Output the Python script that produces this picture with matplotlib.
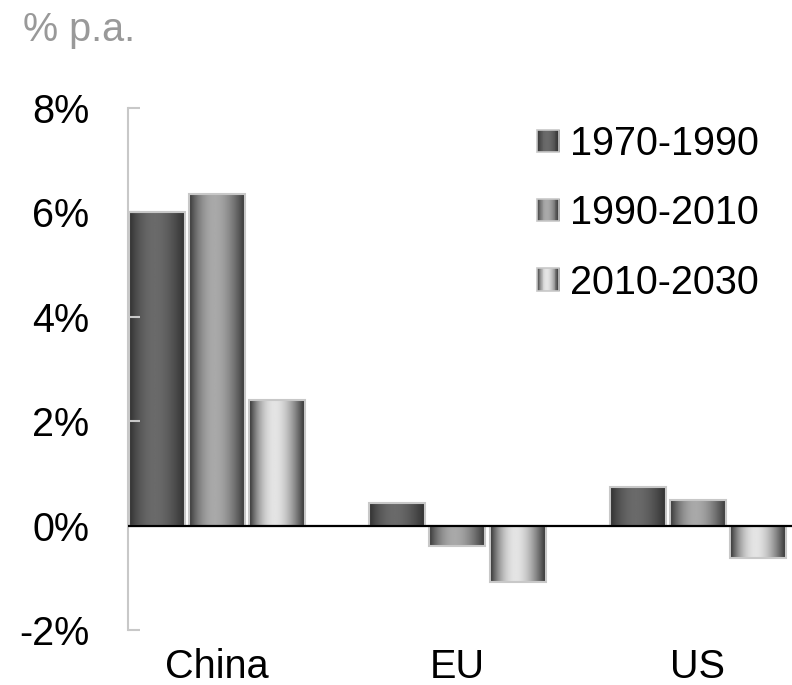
import numpy as np
import matplotlib
matplotlib.use('Agg')
import matplotlib.pyplot as plt
from matplotlib.colors import LinearSegmentedColormap
from matplotlib.legend_handler import HandlerBase
from matplotlib.patches import Rectangle

plt.rcParams['font.family'] = ['Liberation Sans', 'DejaVu Sans']

# data
regions = ['China', 'EU', 'US']
periods = ['1970-1990', '1990-2010', '2010-2030']
growth_70_90 = [6.0, 0.43, 0.73]
growth_90_10 = [6.35, -0.4, 0.5]
growth_10_30 = [2.4, -1.08, -0.63]
yticks = [-2, 0, 2, 4, 6, 8]

series = [growth_70_90, growth_90_10, growth_10_30]
# edge colour, centre colour of the cylinder-like gradient
shades = [('#2e2e2e', '#6a6a6a'), ('#333333', '#a9a9a9'), ('#2a2a2a', '#e4e4e4')]
cmaps = [LinearSegmentedColormap.from_list('g%d' % i, s) for i, s in enumerate(shades)]

t = np.linspace(0, 1, 200)
profile = np.sin(np.pi * t ** 0.87)
grad = profile[np.newaxis, :]

FS = 28.5


class GradHandler(HandlerBase):
	def __init__(self, cmap):
		super().__init__()
		self.cmap = cmap

	def create_artists(self, legend, orig_handle, xdescent, ydescent, width, height, fontsize, trans):
		arts = []
		n = 24
		side = min(width, height)
		x0 = xdescent * -1
		y0 = -ydescent + (height - side) / 2
		for k in range(n):
			v = np.sin(np.pi * ((k + 0.5) / n) ** 0.87)
			r = Rectangle((x0 + k * side / n, y0), side / n + 0.3, side, facecolor=self.cmap(v),
				edgecolor='none', transform=trans)
			arts.append(r)
		arts.append(Rectangle((x0, y0), side, side, facecolor='none', edgecolor='#c8c8c8',
			lw=1.2, transform=trans))
		return arts


fig = plt.figure(figsize=(7.92, 6.85), dpi=100)
ax = fig.add_axes([128 / 792, 1 - 630 / 685, 1 - 128 / 792, (630 - 108) / 685])

x = np.arange(len(regions))
width = 0.233
offsets = [-0.25, 0, 0.25]
handles = []
for i, vals in enumerate(series):
	bars = ax.bar(x + offsets[i], vals, width, facecolor='none', edgecolor='#c8c8c8',
		linewidth=1.5, zorder=1.5, label=periods[i])
	for b in bars:
		x0, y0 = b.get_x(), b.get_y()
		w, h = b.get_width(), b.get_height()
		ax.imshow(grad, cmap=cmaps[i], vmin=0, vmax=1, aspect='auto',
			extent=[x0, x0 + w, y0, y0 + h], zorder=1, interpolation='bilinear')
	handles.append(bars)

ax.axhline(0, color='black', lw=1.6, zorder=3)

ax.set_xlim(-0.370, 2.391)
ax.set_ylim(-2, 8)
ax.set_yticks(yticks)
ax.set_yticklabels(['%d%%' % v for v in yticks])
ax.set_xticks(x)
ax.set_xticklabels(regions)

for s in ['top', 'right', 'bottom']:
	ax.spines[s].set_visible(False)
ax.spines['left'].set_color('#c8c8c8')
ax.spines['left'].set_linewidth(1.5)
ax.tick_params(axis='y', direction='in', length=8.5, width=1.5, color='#c8c8c8',
	labelsize=FS, pad=28, labelcolor='black')
ax.tick_params(axis='x', length=0, labelsize=FS, pad=13, labelcolor='black')

fig.text(23 / 792, 1 - 11 / 685, '% p.a.', color='#999999', fontsize=FS, va='top', ha='left')

leg = ax.legend(handles, periods, loc='upper left', bbox_to_anchor=(537 / 792, 1 - 125 / 685),
	bbox_transform=fig.transFigure, frameon=False, fontsize=FS, borderpad=0, borderaxespad=0,
	handlelength=0.56, handleheight=0.56, handletextpad=0.27, labelspacing=0.79,
	handler_map={handles[i]: GradHandler(cmaps[i]) for i in range(3)})

fig.savefig('out.png', dpi=100)
